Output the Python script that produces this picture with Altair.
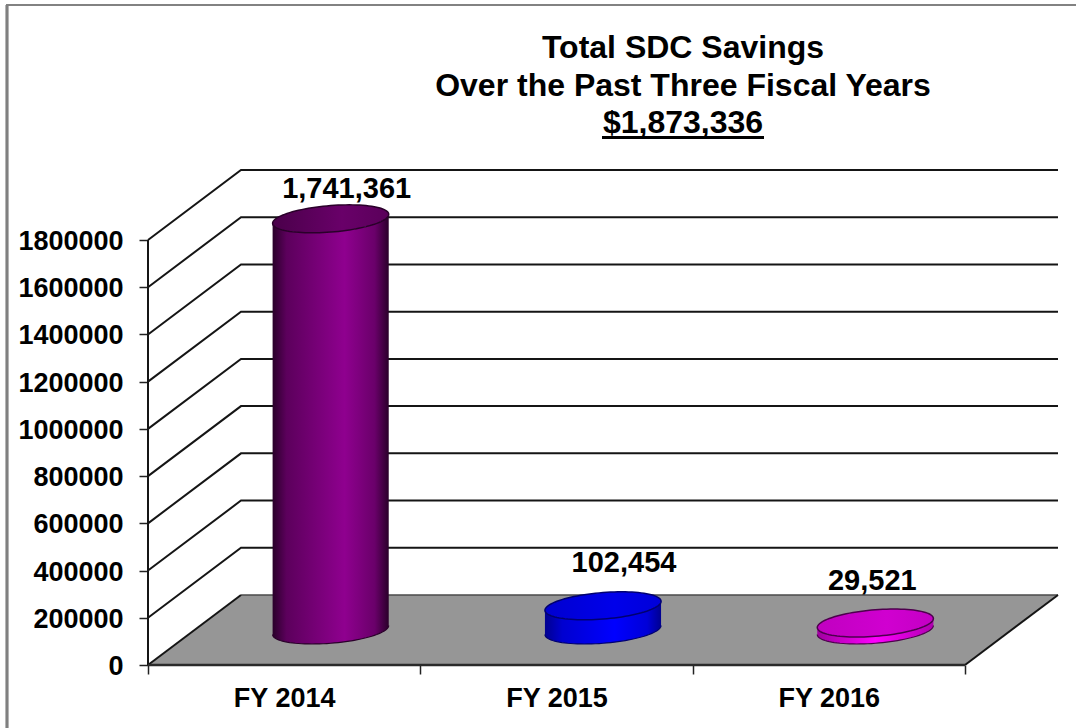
import math
import altair as alt
import pandas as pd

# Chart values
years = ["FY 2014", "FY 2015", "FY 2016"]
savings = [1741361, 102454, 29521]
y_ticks = [0, 200000, 400000, 600000, 800000, 1000000, 1200000, 1400000, 1600000, 1800000]
title_lines = ["Total SDC Savings", "Over the Past Three Fiscal Years", "$1,873,336"]

# Plot box and oblique projection: one category slot is 272.33 px wide,
# and the full floor depth shifts a point right and up by these amounts.
PLOT_W, PLOT_H = 910, 495
SLOT_PX = 272.33
DEPTH_X = 93 / SLOT_PX
DEPTH_Y = 70 / 425 * 1800000
RADIUS_X = 55 / SLOT_PX
RADIUS_D = 0.2
FONT = "Liberation Sans"

x_q = alt.X("x:Q", axis=None, scale=alt.Scale(domain=[0, PLOT_W / SLOT_PX], nice=False, zero=False))
x2_q = alt.X2("x2:Q")
y_q = alt.Y(
    "y:Q",
    title=None,
    scale=alt.Scale(domain=[0, 1800000 + DEPTH_Y], nice=False, zero=False),
    axis=alt.Axis(
        values=y_ticks, format="d", grid=False, domain=False, tickSize=9, tickWidth=1.5,
        tickColor="#222222", labelFont=FONT, labelFontSize=27, labelFontWeight="bold",
        labelColor="#000000", labelPadding=16, labelOverlap=False, labelBound=False, labelOffset=1.5,
    ),
)
y_plain = alt.Y("y:Q", title=None, scale=alt.Scale(domain=[0, 1800000 + DEPTH_Y], nice=False, zero=False))


def polyline(points, color="#151515", width=2.0):
    frame = pd.DataFrame([{"x": a, "y": b, "i": i} for i, (a, b) in enumerate(points)])
    return alt.Chart(frame).mark_line(color=color, strokeWidth=width, clip=False).encode(
        x=x_q, y=y_plain, order="i:Q"
    )


# Back wall and side wall gridlines
layers = []
for tick in y_ticks[1:]:
    layers.append(polyline([(0, tick), (DEPTH_X, tick + DEPTH_Y), (3 + DEPTH_X, tick + DEPTH_Y)]))

# Grey floor as a parallelogram
floor = pd.DataFrame(
    {"y": [0, DEPTH_Y], "x": [0, DEPTH_X], "x2": [3, 3 + DEPTH_X]}
)
layers.append(alt.Chart(floor).mark_area(orient="horizontal", color="#969696").encode(x=x_q, x2=x2_q, y=y_plain))
layers.append(polyline([(DEPTH_X, DEPTH_Y), (3 + DEPTH_X, DEPTH_Y)], color="#4a4a4a", width=1.5))
layers.append(polyline([(0, 0), (DEPTH_X, DEPTH_Y)]))
layers.append(polyline([(3, 0), (3 + DEPTH_X, DEPTH_Y)]))
layers.append(polyline([(0, 0), (0, 1800000)], width=2.0))
layers.append(polyline([(0, 0), (3, 0)], color="#2a2a2a", width=2.5))


def gradient(stops):
    return alt.Gradient(
        gradient="linear", x1=0, x2=1, y1=0, y2=0,
        stops=[alt.GradientStop(offset=o, color=c) for o, c in stops],
    )


# Per-cylinder shading
shades = [
    {
        "body": [(0, "#2a002a"), (0.12, "#5c005c"), (0.62, "#8f008f"), (0.88, "#6a006a"), (1, "#2a002a")],
        "cap": gradient([(0, "#4a004a"), (0.6, "#690069"), (1, "#5a005a")]),
        "rim": "#2a002a",
    },
    {
        "body": [(0, "#000090"), (0.15, "#0000d0"), (0.6, "#0000ff"), (0.88, "#0000d8"), (1, "#000090")],
        "cap": gradient([(0, "#0000d0"), (0.6, "#0000ea"), (1, "#0000d8")]),
        "rim": "#000070",
    },
    {
        "body": [(0, "#a000a0"), (0.5, "#ff00ff"), (1, "#b000b0")],
        "cap": gradient([(0, "#c000c0"), (0.6, "#d000d0"), (1, "#c400c4")]),
        "rim": "#4d004d",
    },
]

THETA0 = math.atan2(RADIUS_D * DEPTH_X, RADIUS_X)


def rim_point(slot, value, theta):
    # A circle lying in the horizontal plane at this value, seen through the projection
    x = slot + 0.5 + 0.5 * DEPTH_X + RADIUS_X * math.cos(theta) + RADIUS_D * DEPTH_X * math.sin(theta)
    y = value + (0.5 + RADIUS_D * math.sin(theta)) * DEPTH_Y
    return x, y


for slot, (value, shade) in enumerate(zip(savings, shades)):
    steps = 48
    front = [THETA0 + math.pi + math.pi * k / steps for k in range(steps + 1)]
    rows = []
    for t in front:
        xb, yb = rim_point(slot, 0, t)
        rows.append({"x": xb, "y": yb, "y2": yb + value})
    body = pd.DataFrame(rows)
    layers.append(
        alt.Chart(body).mark_area(color=gradient(shade["body"])).encode(
            x=x_q, y=y_plain, y2=alt.Y2("y2:Q")
        )
    )
    layers.append(polyline([(r["x"], r["y"]) for r in rows], color=shade["rim"], width=1.2))

    loop = [rim_point(slot, value, 2 * math.pi * k / 96) for k in range(97)]
    cap = pd.DataFrame([{"x": a, "y": b, "i": i} for i, (a, b) in enumerate(loop)])
    layers.append(
        alt.Chart(cap).mark_line(fill=shade["cap"], stroke=shade["rim"], strokeWidth=1.5).encode(
            x=x_q, y=y_plain, order="i:Q"
        )
    )

# Value labels, each nudged off its cylinder's top
nudges = [(16, -30), (21, -43), (-3, -42)]
for slot, (value, (dx, dy)) in enumerate(zip(savings, nudges)):
    cx = slot + 0.5 + 0.5 * DEPTH_X
    cy = value + 0.5 * DEPTH_Y
    frame = pd.DataFrame([{"x": cx, "y": cy, "label": f"{value:,}"}])
    layers.append(
        alt.Chart(frame).mark_text(
            font=FONT, fontSize=29, fontWeight="bold", color="#000000",
            baseline="middle", dx=dx, dy=dy,
        ).encode(x=x_q, y=y_plain, text="label:N")
    )

# Category axis with ticks on the slot boundaries, and the value axis
axes = pd.DataFrame({"year": years, "y": [0, 0, 0]})
layers.append(
    alt.Chart(axes).mark_rule(opacity=0).encode(
        x=alt.X(
            "year:N", title=None, sort=years,
            scale=alt.Scale(range=[0, 3 * SLOT_PX], paddingInner=0, paddingOuter=0),
            axis=alt.Axis(
                tickBand="extent", domain=False, grid=False, tickSize=9, tickWidth=1.5,
                tickColor="#222222", labelAngle=0, labelFont=FONT, labelFontSize=27,
                labelFontWeight="bold", labelColor="#000000", labelPadding=11,
            ),
        ),
        y=y_q,
    )
)

# Slide frame (left and top edges only)
layers.append(
    alt.Chart(axes).mark_rule(color="#808080", strokeWidth=2.5).encode(
        x=alt.value(-141), y=alt.value(-165), y2=alt.value(558)
    )
)
layers.append(
    alt.Chart(axes).mark_rule(color="#808080", strokeWidth=1.5).encode(
        x=alt.value(-142), x2=alt.value(928), y=alt.value(-165)
    )
)

# Three-line heading above the plot, with the total underlined
for line, offset_y in zip(title_lines, [-122, -84, -47]):
    frame = pd.DataFrame({"label": [line]})
    layers.append(
        alt.Chart(frame).mark_text(
            font=FONT, fontSize=32, fontWeight="bold", color="#000000", baseline="middle", align="center",
        ).encode(x=alt.value(535), y=alt.value(offset_y), text="label:N")
    )
layers.append(
    alt.Chart(axes).mark_rule(color="#000000", strokeWidth=3).encode(
        x=alt.value(454), x2=alt.value(616), y=alt.value(-32.5)
    )
)

chart = (
    alt.layer(*layers)
    .resolve_scale(x="independent")
    .properties(
        width=PLOT_W,
        height=PLOT_H,
        autosize=alt.AutoSizeParams(type="none"),
        padding={"left": 148, "top": 170, "right": 18, "bottom": 63},
        background="#ffffff",
    )
    .configure_view(stroke=None)
)

chart.save("out.html", embed_options={"renderer": "svg", "actions": False})
